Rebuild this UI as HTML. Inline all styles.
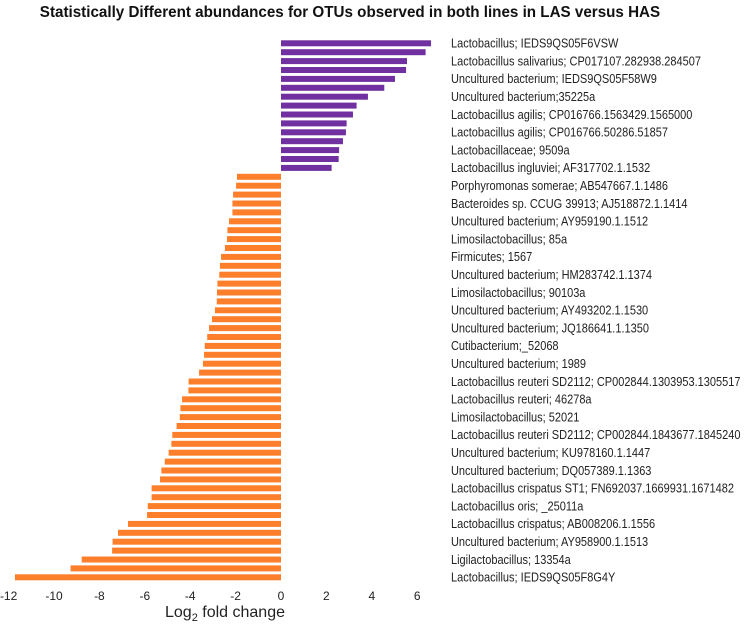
<!DOCTYPE html>
<html><head><meta charset="utf-8"><style>
html,body{margin:0;padding:0;background:#fff;}
svg{display:block;font-family:"Liberation Sans",Arial,sans-serif;}
</style></head><body>
<svg id="chart" width="752" height="627" viewBox="0 0 752 627" xmlns="http://www.w3.org/2000/svg">
<text x="350" y="17" text-anchor="middle" font-weight="bold" font-size="16" transform="translate(350,0) scale(0.95,1) translate(-350,0)" fill="#111">Statistically Different abundances for OTUs observed in both lines in LAS versus HAS</text>
<g id="bars"></g>
<g id="labels"></g>
<g id="ticks"></g>
<text x="225" y="617" text-anchor="middle" font-size="16" fill="#222">Log<tspan font-size="11" dy="4">2</tspan><tspan dy="-4"> fold change</tspan></text>
</svg>
<script>
const upValues = [6.61,6.37,5.55,5.51,5.02,4.55,3.83,3.33,3.17,2.89,2.86,2.73,2.56,2.54,2.23];
const downValues = [-1.94,-1.98,-2.11,-2.14,-2.14,-2.29,-2.36,-2.38,-2.47,-2.64,-2.69,-2.72,-2.80,-2.82,-2.83,-2.91,-3.04,-3.17,-3.25,-3.36,-3.39,-3.44,-3.61,-4.07,-4.08,-4.36,-4.43,-4.46,-4.60,-4.79,-4.83,-4.95,-5.12,-5.27,-5.33,-5.70,-5.70,-5.87,-5.90,-6.74,-7.18,-7.42,-7.44,-8.78,-9.27,-11.72];
const otuLabels = ["Lactobacillus; IEDS9QS05F6VSW","Lactobacillus salivarius; CP017107.282938.284507","Uncultured bacterium; IEDS9QS05F58W9","Uncultured bacterium;35225a","Lactobacillus agilis; CP016766.1563429.1565000","Lactobacillus agilis; CP016766.50286.51857","Lactobacillaceae; 9509a","Lactobacillus ingluviei; AF317702.1.1532","Porphyromonas somerae; AB547667.1.1486","Bacteroides sp. CCUG 39913; AJ518872.1.1414","Uncultured bacterium; AY959190.1.1512","Limosilactobacillus; 85a","Firmicutes; 1567","Uncultured bacterium; HM283742.1.1374","Limosilactobacillus; 90103a","Uncultured bacterium; AY493202.1.1530","Uncultured bacterium; JQ186641.1.1350","Cutibacterium;_52068","Uncultured bacterium; 1989","Lactobacillus reuteri SD2112; CP002844.1303953.1305517","Lactobacillus reuteri; 46278a","Limosilactobacillus; 52021","Lactobacillus reuteri SD2112; CP002844.1843677.1845240","Uncultured bacterium; KU978160.1.1447","Uncultured bacterium; DQ057389.1.1363","Lactobacillus crispatus ST1; FN692037.1669931.1671482","Lactobacillus oris; _25011a","Lactobacillus crispatus; AB008206.1.1556","Uncultured bacterium; AY958900.1.1513","Ligilactobacillus; 13354a","Lactobacillus; IEDS9QS05F8G4Y"];
const tickValues = [-12,-10,-8,-6,-4,-2,0,2,4,6];

const NS = "http://www.w3.org/2000/svg";
const x0 = 281, pxPerUnit = 22.7, top0 = 40.3, pitch = 8.9, barH = 6;
const xScale = v => x0 + v * pxPerUnit;
const yScale = i => top0 + i * pitch;
const all = upValues.map(v => ({v, c: "#7030a0"})).concat(downValues.map(v => ({v, c: "#fd7f2c"})));
const bars = document.getElementById("bars");
all.forEach((d, i) => {
  const r = document.createElementNS(NS, "rect");
  const a = xScale(0), b = xScale(d.v);
  r.setAttribute("x", Math.min(a, b));
  r.setAttribute("width", Math.abs(b - a));
  r.setAttribute("y", yScale(i));
  r.setAttribute("height", barH);
  r.setAttribute("fill", d.c);
  
  
  bars.appendChild(r);
});
const labels = document.getElementById("labels");
otuLabels.forEach((t, k) => {
  const tx = document.createElementNS(NS, "text");
  const y = yScale(k * 2) + barH / 2 + 4.3;
  tx.setAttribute("x", 451);
  tx.setAttribute("y", y);
  tx.setAttribute("font-size", "12.5");
  tx.setAttribute("fill", "#222");
  tx.setAttribute("transform", "translate(451,0) scale(0.88,1) translate(-451,0)");
  tx.textContent = t;
  
  
  labels.appendChild(tx);
});
const ticks = document.getElementById("ticks");
tickValues.forEach(v => {
  const tx = document.createElementNS(NS, "text");
  tx.setAttribute("x", xScale(v));
  tx.setAttribute("y", 600);
  tx.setAttribute("text-anchor", "middle");
  tx.setAttribute("font-size", "12");
  tx.setAttribute("fill", "#222");
  tx.textContent = v;
  
  
  ticks.appendChild(tx);
});
</script>
</body></html>
